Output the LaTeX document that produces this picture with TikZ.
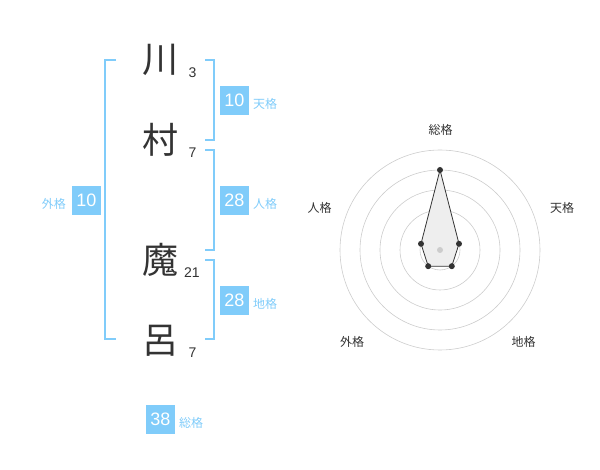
\documentclass[tikz,border=0pt]{standalone}
\usepackage{fontspec}
\setmainfont{Liberation Sans}
\newfontfamily\cjk{Noto Sans CJK JP}
\definecolor{sky}{RGB}{128,204,250}
\definecolor{ink}{RGB}{51,51,51}
\definecolor{ring}{RGB}{204,204,204}
\definecolor{fillg}{RGB}{238,238,238}
\begin{document}
\begin{tikzpicture}[x=1pt,y=-1pt,
  kanji/.style={inner sep=0pt,text=ink,font=\cjk\fontsize{36}{36}\selectfont},
  stroke/.style={inner sep=0pt,text=ink,font=\fontsize{14}{14}\selectfont},
  valbox/.style={fill=sky,text=white,minimum width=29pt,minimum height=29pt,inner sep=0pt,font=\fontsize{18}{18}\selectfont},
  kaku/.style={inner sep=0pt,text=sky,font=\cjk\fontsize{12}{12}\selectfont,anchor=west},
  brk/.style={draw=sky,line width=2pt},
  ringst/.style={draw=ring,line width=0.6pt},
  axlab/.style={inner sep=0pt,text=ink,font=\cjk\fontsize{12}{12}\selectfont},
  dot/.style={circle,fill=ink,inner sep=0pt,minimum size=6pt}]
\useasboundingbox (0,0) rectangle (600,470);
% characters
\node[kanji] (k1) at (160,60) {川};
\node[kanji] (k2) at (160,140) {村};
\node[kanji] (k3) at (160,260) {魔};
\node[kanji] (k4) at (160,341) {呂};
\node[stroke] (s1) at (192.5,72.5) {3};
\node[stroke] (s2) at (192.5,152.5) {7};
\node[stroke] (s3) at (192,272.5) {21};
\node[stroke] (s4) at (192.5,352.5) {7};
% brackets
\draw[brk] (116,60) -- (105,60) -- (105,339) -- (116,339);
\draw[brk] (205,60) -- (214,60) -- (214,140) -- (205,140);
\draw[brk] (205,150) -- (214,150) -- (214,250) -- (205,250);
\draw[brk] (205,260) -- (214,260) -- (214,339) -- (205,339);
% values
\node[valbox] (ten) at (234.5,100.5) {10};
\node[kaku] (tenl) at (253,104) {天格};
\node[valbox] (jin) at (234.5,200.5) {28};
\node[kaku] (jinl) at (253,204) {人格};
\node[valbox] (chi) at (234.5,300.5) {28};
\node[kaku] (chil) at (253,304) {地格};
\node[valbox] (gai) at (86.5,200.5) {10};
\node[kaku,anchor=east] (gail) at (66,203.5) {外格};
\node[valbox] (sou) at (160.5,419) {38};
\node[kaku] (soul) at (179,422.5) {総格};
% radar
\coordinate (c) at (440,250);
\foreach \r in {20,40,60,80,100} \draw[ringst] (c) circle (\r);
\coordinate (pS) at (440,170);
\coordinate (pT) at (459.0,243.8);
\coordinate (pC) at (451.8,266.2);
\coordinate (pG) at (428.2,266.2);
\coordinate (pJ) at (421.0,243.8);
\filldraw[fill=fillg,draw=ink,line width=0.8pt] (pS) -- (pT) -- (pC) -- (pG) -- (pJ) -- cycle;
\fill[ring] (c) circle (3);
\foreach \p in {pS,pT,pC,pG,pJ} \node[dot] at (\p) {};
\node[axlab] (lS) at (440.5,130) {総格};
\node[axlab] (lT) at (562,208) {天格};
\node[axlab] (lJ) at (319.5,208) {人格};
\node[axlab] (lG) at (352,341.5) {外格};
\node[axlab] (lC) at (523.5,341.5) {地格};
\end{tikzpicture}
\end{document}
